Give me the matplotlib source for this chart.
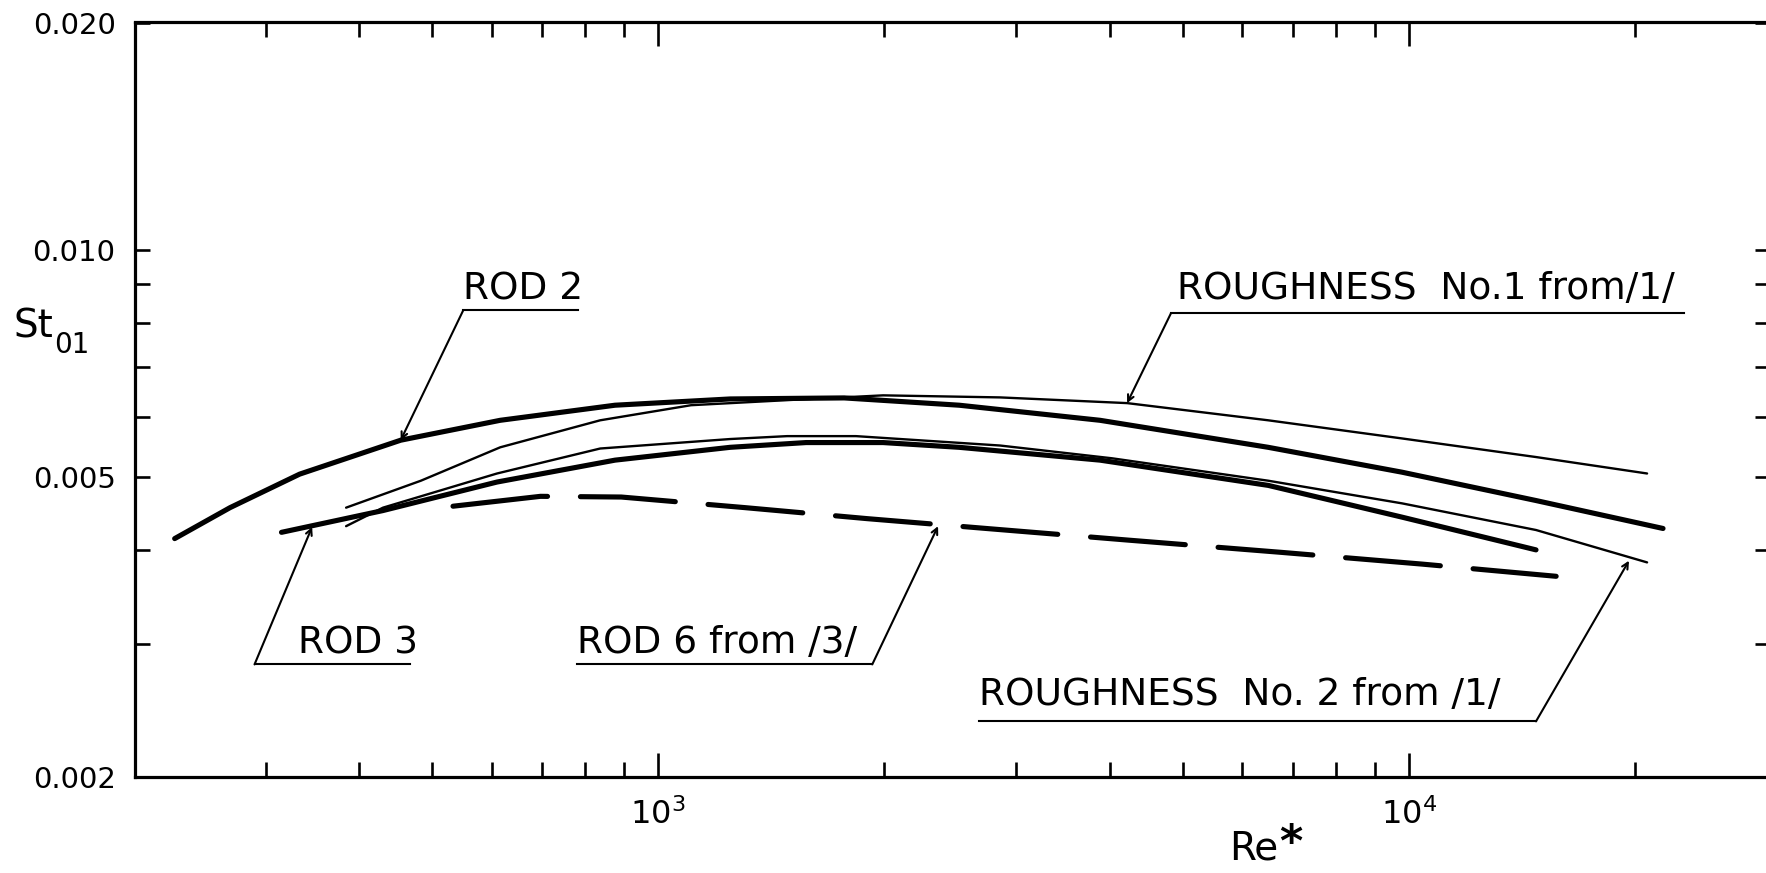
import matplotlib
matplotlib.use('Agg')
import matplotlib.pyplot as plt
from matplotlib.ticker import FixedLocator, NullFormatter

plt.rcParams['font.family'] = ['DejaVu Sans']

# ---------------------------------------------------------------
# curves (Re*, St01)

# ROD 2 (thick)
rod2_re = [227, 269, 333, 454, 616, 876, 1247, 1769, 2517, 3877, 6493, 9788, 14760, 21790]
rod2_st = [0.00414, 0.00455, 0.00504, 0.00559, 0.00594, 0.00622, 0.00634, 0.00636,
           0.00622, 0.00594, 0.00547, 0.00507, 0.00465, 0.00427]

# ROD 3 (thick)
rod3_re = [315, 430, 610, 876, 1247, 1574, 1993, 2517, 3877, 6493, 9788, 14760]
rod3_st = [0.00422, 0.00451, 0.00492, 0.00526, 0.00547, 0.00555, 0.00555, 0.00547,
           0.00526, 0.00487, 0.00442, 0.00400]

# ROUGHNESS No.1 from /1/ (thin)
r1_re = [384, 483, 616, 837, 1106, 1499, 1993, 2853, 4212, 6493, 9788, 14760, 20750]
r1_st = [0.00455, 0.00494, 0.00547, 0.00594, 0.00622, 0.00632, 0.00641, 0.00637,
         0.00626, 0.00594, 0.00562, 0.00531, 0.00505]

# ROUGHNESS No.2 from /1/ (thin)
r2_re = [384, 430, 610, 837, 1247, 1485, 1834, 2853, 4022, 6493, 9788, 14760, 20750]
r2_st = [0.00430, 0.00455, 0.00505, 0.00545, 0.00561, 0.00566, 0.00566, 0.00550,
         0.00529, 0.00494, 0.00461, 0.00425, 0.00385]

# ROD 6 from /3/ (dashed)
rod6_re = [533, 697, 893, 1306, 1898, 2734, 4238, 6754, 10410, 15700]
rod6_st = [0.00457, 0.00471, 0.00470, 0.00455, 0.00440, 0.00427, 0.00412, 0.00397,
           0.00383, 0.00369]

# axis ticks
x_major = [1e3, 1e4]
x_major_labels = [r'$\mathregular{10^{3}}$', r'$\mathregular{10^{4}}$']
x_minor = [300, 400, 500, 600, 700, 800, 900,
           2000, 3000, 4000, 5000, 6000, 7000, 8000, 9000, 20000]
y_major = [0.002, 0.005, 0.010, 0.020]
y_major_labels = ['0.002', '0.005', '0.010', '0.020']
y_minor = [0.003, 0.004, 0.006, 0.007, 0.008, 0.009]

# ---------------------------------------------------------------
fig = plt.figure(figsize=(17.66, 8.73), dpi=100)
ax = fig.add_axes([135 / 1766, 96 / 873, 1635 / 1766, 754.5 / 873])
ax.set_xscale('log')
ax.set_yscale('log')
ax.set_xlim(201, 30250)
ax.set_ylim(0.002, 0.02)

thick = dict(color='black', lw=3.7, solid_capstyle='round', solid_joinstyle='round')
thin = dict(color='black', lw=1.7, solid_capstyle='round', solid_joinstyle='round')

ax.plot(rod2_re, rod2_st, **thick)
ax.plot(rod3_re, rod3_st, **thick)
ax.plot(r1_re, r1_st, **thin)
ax.plot(r2_re, r2_st, **thin)
ax.plot(rod6_re, rod6_st, color='black', lw=3.7, dashes=(18.5, 6.4), dash_capstyle='round')

# leader lines with underlined labels
# (text, tip, elbow, other end of underline, text left x, baseline offset in pt)
notes = [
    ('ROD 2', (454, 0.00559), (550, 0.00831), 783, 550, 8),
    ('ROUGHNESS  No.1 from/1/', (4212, 0.00626), (4820, 0.00824), 23240, 4910, 10),
    ('ROD 3', (346, 0.00429), (290, 0.00282), 467, 331, 8),
    ('ROD 6 from /3/', (2359, 0.00430), (1928, 0.00282), 780, 780, 8),
    ('ROUGHNESS  No. 2 from /1/', (19630, 0.00387), (14760, 0.00237), 2676, 2676, 11.5),
]
for txt, tip, elbow, xend, xtxt, dy in notes:
    ax.plot([elbow[0], xend], [elbow[1], elbow[1]], color='black', lw=1.5)
    ax.annotate('', xy=tip, xytext=elbow,
                arrowprops=dict(arrowstyle='->', lw=1.5, color='black',
                                shrinkA=0, shrinkB=0, mutation_scale=11))
    ax.annotate(txt, xy=(xtxt, elbow[1]), xytext=(0, dy), textcoords='offset points',
                fontsize=27, va='baseline', ha='left')

# ticks
ax.xaxis.set_major_locator(FixedLocator(x_major))
ax.xaxis.set_minor_locator(FixedLocator(x_minor))
ax.set_xticklabels(x_major_labels)
ax.xaxis.set_minor_formatter(NullFormatter())
ax.yaxis.set_major_locator(FixedLocator(y_major))
ax.yaxis.set_minor_locator(FixedLocator(y_minor))
ax.set_yticklabels(y_major_labels)
ax.yaxis.set_minor_formatter(NullFormatter())

ax.tick_params(which='both', direction='in', top=True, right=True, width=1.9, color='black')
ax.tick_params(axis='x', which='major', length=17, pad=15, labelsize=23)
ax.tick_params(axis='x', which='minor', length=11)
ax.tick_params(axis='y', which='both', length=11, pad=14, labelsize=21)

for s in ax.spines.values():
    s.set_linewidth(2.3)

# axis titles
fig.text(13 / 1766, 1 - 337 / 873, 'St', fontsize=28, va='baseline')
fig.text(54 / 1766, 1 - 353 / 873, '01', fontsize=20, va='baseline')
fig.text(1229 / 1766, 1 - 860 / 873, 'Re', fontsize=28, va='baseline')
fig.text(1279 / 1766, 1 - 822 / 873, '*', fontsize=32, fontweight='bold', va='top')

fig.savefig('out.png', dpi=100)
